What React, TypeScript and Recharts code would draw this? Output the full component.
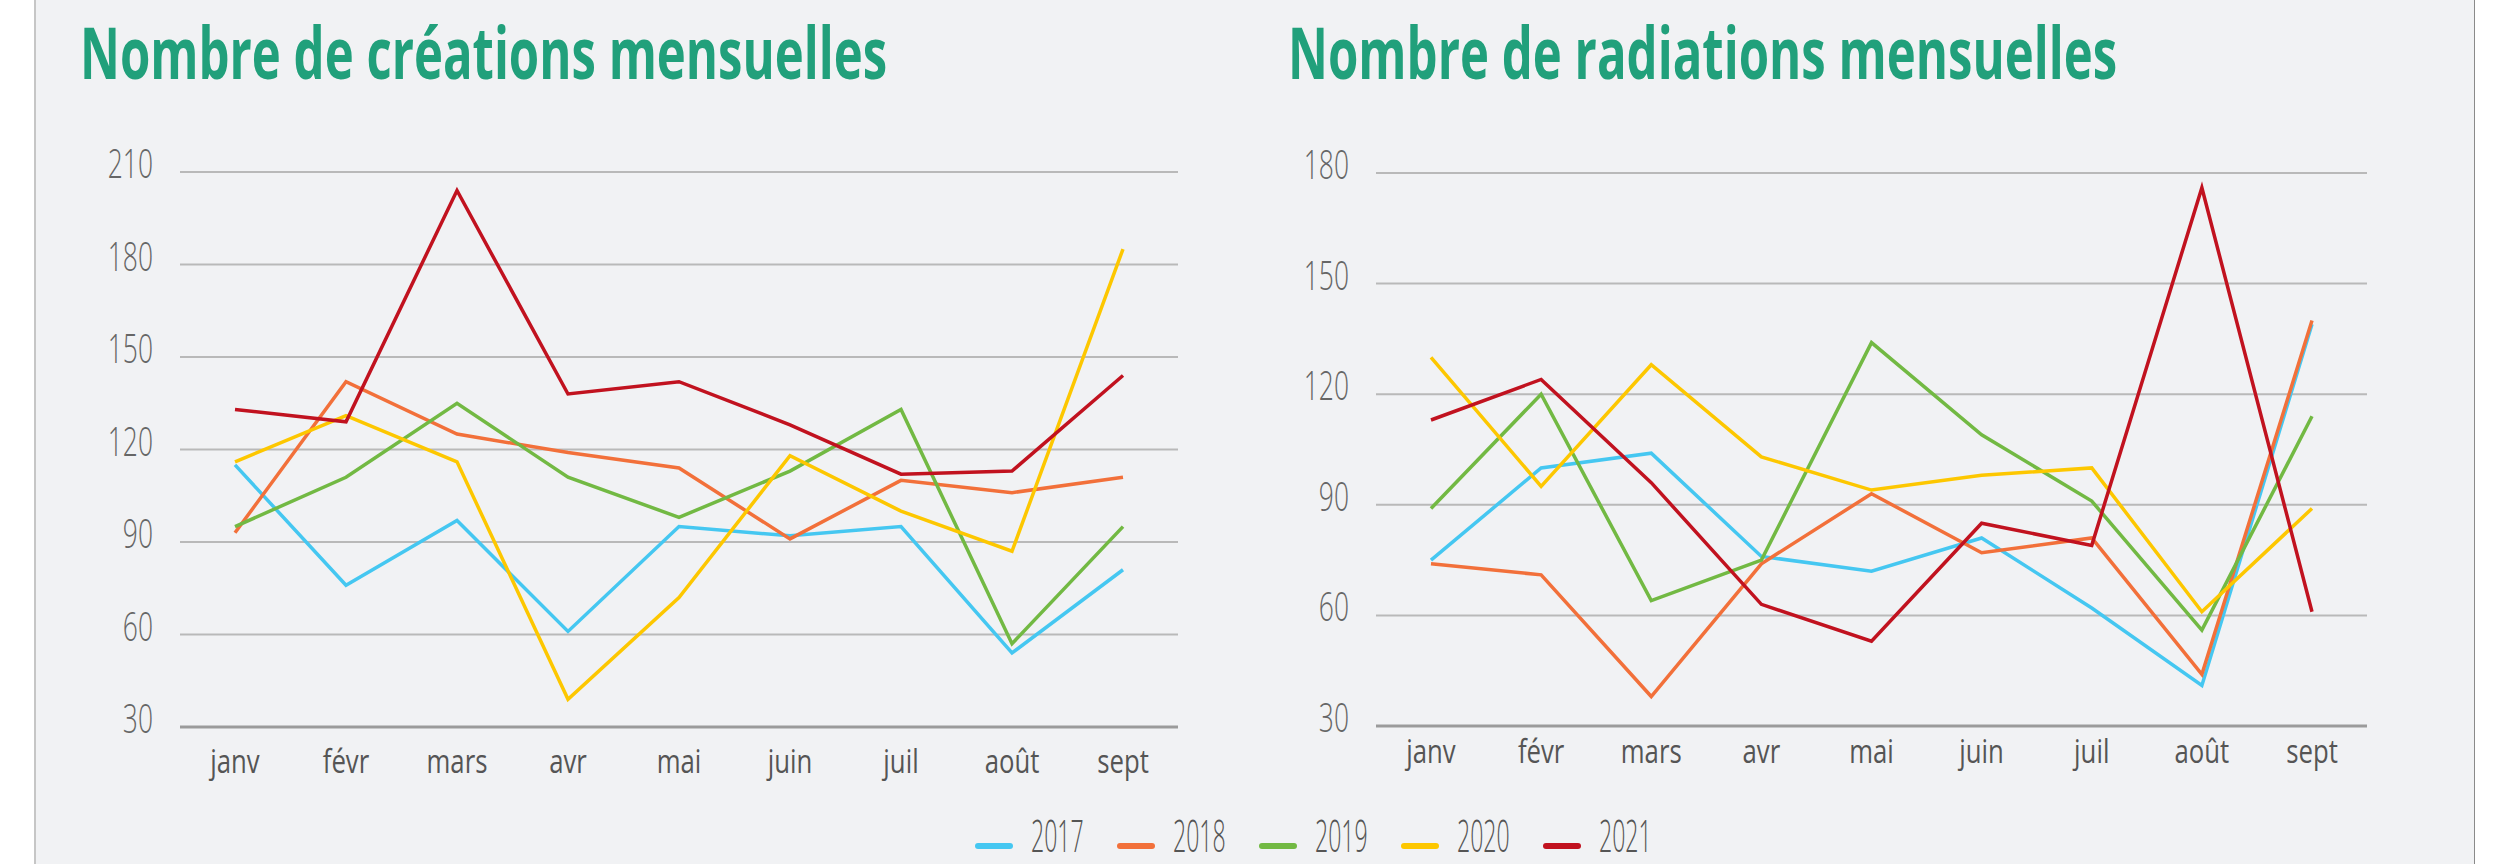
import React, { useLayoutEffect, useRef, useState } from 'react';
import { LineChart, Line, XAxis, YAxis, CartesianGrid } from 'recharts';

// data
const months = ['janv', 'févr', 'mars', 'avr', 'mai', 'juin', 'juil', 'août', 'sept'];
const years = ['2017', '2018', '2019', '2020', '2021'];
const colors = ['#45c7f1', '#f2703a', '#72b943', '#fdc700', '#c1121f'];

const creations2017 = [115, 76, 97, 61, 95, 92, 95, 54, 81];
const creations2018 = [93, 142, 125, 119, 114, 91, 110, 106, 111];
const creations2019 = [95, 111, 135, 111, 98, 113, 133, 57, 95];
const creations2020 = [116, 131, 116, 39, 72, 118, 100, 87, 185];
const creations2021 = [133, 129, 204, 138, 142, 128, 112, 113, 144];

const radiations2017 = [75, 100, 104, 76, 72, 81, 62, 41, 139];
const radiations2018 = [74, 71, 38, 74, 93, 77, 81, 44, 140];
const radiations2019 = [89, 120, 64, 75, 134, 109, 91, 56, 114];
const radiations2020 = [130, 95, 128, 103, 94, 98, 100, 61, 89];
const radiations2021 = [113, 124, 96, 63, 53, 85, 79, 176, 61];

const creationTicks = [30, 60, 90, 120, 150, 180, 210];
const radiationTicks = [30, 60, 90, 120, 150, 180];

const titleCreations = 'Nombre de créations mensuelles';
const titleRadiations = 'Nombre de radiations mensuelles';

const FONT = "'Open Sans', 'Noto Sans', sans-serif";

function toRows(series: number[][]) {
  return months.map((m, i) => {
    const row: Record<string, string | number> = { month: m };
    years.forEach((y, k) => {
      row[y] = series[k][i];
    });
    return row;
  });
}

const creationRows = toRows([creations2017, creations2018, creations2019, creations2020, creations2021]);
const radiationRows = toRows([radiations2017, radiations2018, radiations2019, radiations2020, radiations2021]);

// squeezes a text horizontally to a given width (the original uses a condensed face)
function FitText({ x, y, width, children, ...rest }: any) {
  const ref = useRef<SVGTextElement>(null);
  const [sx, setSx] = useState(0.7);
  useLayoutEffect(() => {
    if (ref.current) {
      const w = ref.current.getComputedTextLength();
      if (w > 0) setSx(width / w);
    }
  }, [width]);
  return (
    <g transform={`translate(${x},${y}) scale(${sx},1)`}>
      <text ref={ref} x={0} y={0} {...rest}>
        {children}
      </text>
    </g>
  );
}

const YTick = (props: any) => {
  const { x, y, payload } = props;
  return (
    <g transform={`translate(${x},${y}) scale(0.66,1)`}>
      <text x={0} y={0} dy={6} textAnchor="end" fontSize={40} fontWeight={300} fill="#666" fontFamily={FONT}>
        {payload.value}
      </text>
    </g>
  );
};

const makeXTick = (dy: number) => (props: any) => {
  const { x, y, payload } = props;
  return (
    <g transform={`translate(${x},${y}) scale(0.78,1)`}>
      <text x={0} y={0} dy={dy} textAnchor="middle" fontSize={33} fill="#555" fontFamily={FONT}>
        {payload.value}
      </text>
    </g>
  );
};

interface PanelProps {
  left: number;
  top: number;
  width: number;
  plotTop: number;
  plotHeight: number;
  data: Record<string, string | number>[];
  ticks: number[];
  pad: number;
  labelDy: number;
}

// the chart box starts below the title and stops above the legend
function Panel({ left, top, width, plotTop, plotHeight, data, ticks, pad, labelDy }: PanelProps) {
  const xAxisHeight = 64;
  const height = plotTop + plotHeight + xAxisHeight;
  const XTick = makeXTick(labelDy);
  return (
    <div style={{ position: 'absolute', left, top }}>
      <LineChart width={width} height={height} data={data} margin={{ top: plotTop, right: 0, bottom: 0, left: 0 }}>
        <CartesianGrid vertical={false} stroke="#b9b9b9" strokeWidth={2} />
        <XAxis
          dataKey="month"
          height={xAxisHeight}
          padding={{ left: pad, right: pad }}
          tickSize={0}
          tickMargin={0}
          tickLine={false}
          axisLine={{ stroke: '#9b9b9b', strokeWidth: 3 }}
          tick={<XTick />}
          interval={0}
        />
        <YAxis
          width={100}
          domain={[ticks[0], ticks[ticks.length - 1]]}
          ticks={ticks}
          tickSize={0}
          tickMargin={27}
          tickLine={false}
          axisLine={false}
          tick={<YTick />}
        />
        {years.map((y, k) => (
          <Line
            key={y}
            type="linear"
            dataKey={y}
            stroke={colors[k]}
            strokeWidth={3.5}
            dot={false}
            isAnimationActive={false}
          />
        ))}
      </LineChart>
    </div>
  );
}

export default function App() {
  return (
    <div style={{ position: 'absolute', left: 0, top: 0, width: 2499, height: 864, background: '#fff', overflow: 'hidden' }}>
      <div
        style={{
          position: 'absolute',
          left: 34,
          top: 0,
          width: 2441,
          height: 864,
          background: '#f1f2f4',
          borderLeft: '2px solid #c6c6c6',
          borderRight: '1px solid #8a8a8a',
          boxSizing: 'border-box',
        }}
      />
      <svg width={2499} height={864} style={{ position: 'absolute', left: 0, top: 0 }}>
        <FitText x={80} y={79} width={807} fontSize={72} fontWeight={700} fill="#21a07b" fontFamily={FONT}>
          {titleCreations}
        </FitText>
        <FitText x={1288} y={79} width={829} fontSize={72} fontWeight={700} fill="#21a07b" fontFamily={FONT}>
          {titleRadiations}
        </FitText>
        {years.map((y, k) => {
          const x0 = 975 + k * 142;
          return (
            <g key={y}>
              <rect x={x0} y={843} width={38} height={6} rx={3} fill={colors[k]} />
              <g transform={`translate(${x0 + 56},852) scale(0.55,1.05)`}>
                <text x={0} y={0} fontSize={42} fontWeight={300} fill="#555" fontFamily={FONT}>
                  {y}
                </text>
              </g>
            </g>
          );
        })}
      </svg>
      <Panel left={80} top={112} width={1098} plotTop={60} plotHeight={555} data={creationRows} ticks={creationTicks} pad={55} labelDy={46} />
      <Panel left={1276} top={112} width={1091} plotTop={61} plotHeight={553} data={radiationRows} ticks={radiationTicks} pad={55} labelDy={37} />
    </div>
  );
}
